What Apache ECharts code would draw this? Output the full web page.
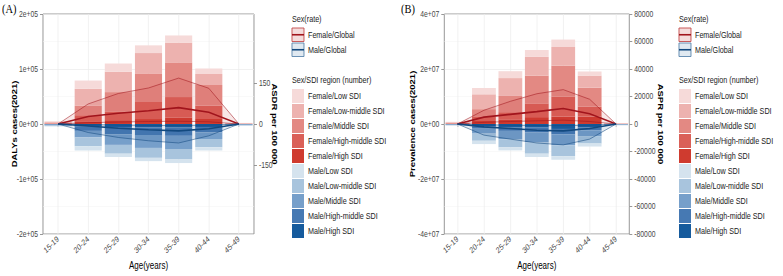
<!DOCTYPE html>
<html>
<head>
<meta charset="utf-8">
<title>DALYs and prevalence by age, sex and SDI</title>
<script src="https://cdn.jsdelivr.net/npm/echarts@6/dist/echarts.min.js"></script>
<style>
  html, body { margin: 0; padding: 0; background: #fff; overflow: hidden; }
  #wrap { width: 783px; height: 276px; overflow: hidden; }
  /* the figure's lettering is narrow, so the chart is drawn wider and squeezed */
  #chart { width: 979px; height: 276px; transform: scaleX(0.79979); transform-origin: 0 0; }
</style>
</head>
<body>
<div id="wrap"><div id="chart"></div></div>
<script>
// age groups on the x axis
var ages = ['15-19', '20-24', '25-29', '30-34', '35-39', '40-44', '45-49'];

// (A) DALYs cases, female (positive) per SDI region
var dalyFemLow     = [1000, 15000, 15000, 14000, 13000, 10000, 400];
var dalyFemLowMid  = [1500, 31000, 37000, 37000, 36000, 20000, 600];
var dalyFemMid     = [1500, 17000, 36000, 52000, 63000, 38000, 600];
var dalyFemHighMid = [700, 11000, 15000, 31000, 37000, 24000, 300];
var dalyFemHigh    = [300, 5000, 7000, 9000, 12000, 9000, 100];
// (A) DALYs cases, male (drawn negative)
var dalyMaleLow     = [-700, -7700, -6000, -6000, -6500, -6000, -500];
var dalyMaleLowMid  = [-1200, -16000, -16000, -18000, -19000, -15000, -900];
var dalyMaleMid     = [-1300, -12000, -19500, -23500, -24000, -12000, -1000];
var dalyMaleHighMid = [-800, -7700, -13000, -14000, -15000, -10000, -600];
var dalyMaleHigh    = [-500, -4800, -5500, -6000, -6500, -5400, -500];
// (A) ASDR per 100 000 (global), mean and bounds
var asdrFemMean  = [0, 27.5, 39, 48, 59.5, 43, 0];
var asdrFemUpper = [0, 73, 111, 131, 167, 130, 0];
var asdrFemLower = [0, 5, 7, 9, 10, 8, 0];
var asdrMaleMean  = [0, -7, -15.5, -21, -25, -17, 0];
var asdrMaleLower = [0, -31, -49, -61, -69, -43, 0];
var asdrMaleUpper = [0, -2, -4, -5, -6, -4, 0];

// (B) prevalence cases, female
var prevFemLow     = [150000, 2300000, 2500000, 2500000, 2700000, 1500000, 60000];
var prevFemLowMid  = [200000, 5400000, 6500000, 6800000, 6800000, 4400000, 80000];
var prevFemMid     = [200000, 2600000, 5900000, 10100000, 11300000, 6900000, 80000];
var prevFemHighMid = [150000, 1700000, 2600000, 5000000, 7200000, 3600000, 50000];
var prevFemHigh    = [100000, 1100000, 1700000, 2500000, 2700000, 2700000, 30000];
// (B) prevalence cases, male (drawn negative)
var prevMaleLow     = [-100000, -1200000, -1100000, -1200000, -1300000, -1100000, -80000];
var prevMaleLowMid  = [-150000, -2600000, -3000000, -4100000, -4000000, -2700000, -120000];
var prevMaleMid     = [-150000, -1800000, -3000000, -3600000, -3900000, -2100000, -120000];
var prevMaleHighMid = [-100000, -900000, -1200000, -1800000, -2000000, -1100000, -90000];
var prevMaleHigh    = [-100000, -800000, -1300000, -1300000, -1800000, -1200000, -90000];
// (B) ASPR per 100 000 (global)
var asprFemMean  = [0, 5000, 7000, 9000, 11300, 7500, 0];
var asprFemUpper = [0, 10000, 16500, 22000, 25000, 18000, 0];
var asprFemLower = [0, 1200, 1800, 2300, 2800, 1800, 0];
var asprMaleMean  = [0, -2100, -3300, -4500, -5000, -3300, 0];
var asprMaleLower = [0, -8100, -11000, -13800, -15200, -11000, 0];
var asprMaleUpper = [0, -600, -900, -1100, -1200, -900, 0];

// tick labels of the ASDR axis
var asdrTicks = [-150, 0, 150];

var legendNames = [
  'Female/Low SDI', 'Female/Low-middle SDI', 'Female/Middle SDI', 'Female/High-middle SDI', 'Female/High SDI',
  'Male/Low SDI', 'Male/Low-middle SDI', 'Male/Middle SDI', 'Male/High-middle SDI', 'Male/High SDI'
];
var colors = {
  'Female/Low SDI': '#f6dad9', 'Female/Low-middle SDI': '#edb2af', 'Female/Middle SDI': '#e38983',
  'Female/High-middle SDI': '#da6058', 'Female/High SDI': '#cf3b2f',
  'Male/Low SDI': '#d5e3ee', 'Male/Low-middle SDI': '#a8c4dd', 'Male/Middle SDI': '#769fca',
  'Male/High-middle SDI': '#4679b3', 'Male/High SDI': '#165b9d'
};

var S = 783 / 979;               // horizontal squeeze applied by css
function X(px) { return px / S; } // page x -> chart x

var FONT = "'Liberation Sans', Arial, sans-serif";
var AXIS_GREY = '#8c8c8c';
var TXT_GREY = '#474747';
var FEM_LINE = '#a1141c';
var MALE_LINE = '#12497f';
var TICK_SIZE = 8.5;

function sci(v) {
  if (v === 0) return '0e+00';
  var p = v.toExponential().split('e');
  var e = p[1];
  var d = e.slice(1);
  if (d.length < 2) d = '0' + d;
  return p[0] + 'e' + e[0] + d;
}
function plain(v) { return String(v); }

function ribbon(upper, lower, fill) {
  return function (params, api) {
    if (params.dataIndex !== 0) return;
    var pts = [];
    for (var i = 0; i < upper.length; i++) pts.push(api.coord([i, upper[i]]));
    for (var j = lower.length - 1; j >= 0; j--) pts.push(api.coord([j, lower[j]]));
    return { type: 'polygon', shape: { points: pts }, style: { fill: fill, stroke: 'none' } };
  };
}

function panelSeries(p, bars, rates) {
  var out = [];
  // stacking order: High SDI nearest zero
  var order = ['High SDI', 'High-middle SDI', 'Middle SDI', 'Low-middle SDI', 'Low SDI'];
  ['Female', 'Male'].forEach(function (sex) {
    order.forEach(function (lvl) {
      var name = sex + '/' + lvl;
      out.push({
        name: name, type: 'bar', xAxisIndex: p, yAxisIndex: p * 2, stack: 'p' + p,
        barCategoryGap: '10%', data: bars[name], z: 2,
        itemStyle: { color: colors[name] }, silent: true
      });
    });
  });
  // vertical grid lines at category centres
  out.push({
    type: 'line', xAxisIndex: p, yAxisIndex: p * 2, data: [], z: 1, silent: true,
    markLine: {
      z: 1, silent: true, symbol: ['none', 'none'], label: { show: false },
      lineStyle: { color: '#ebebeb', width: 0.8, type: 'solid' },
      data: ages.map(function (a) { return { xAxis: a }; })
    }
  });
  // uncertainty ribbons
  [[rates.fu, rates.fl, 'rgba(200,60,60,0.12)'], [rates.mu, rates.ml, 'rgba(40,90,150,0.12)']].forEach(function (r) {
    out.push({
      type: 'custom', xAxisIndex: p, yAxisIndex: p * 2 + 1, z: 3, silent: true,
      renderItem: ribbon(r[0], r[1], r[2]),
      data: ages.map(function (a, i) { return [i, r[0][i]]; })
    });
  });
  function line(name, d, col, w) {
    return { name: name, type: 'line', xAxisIndex: p, yAxisIndex: p * 2 + 1, data: d, z: 4,
      symbol: 'none', silent: true, lineStyle: { color: col, width: w } };
  }
  out.push(line('Female/Global upper', rates.fu, FEM_LINE, 0.6));
  out.push(line('Female/Global lower', rates.fl, FEM_LINE, 0.6));
  out.push(line('Female/Global', rates.fm, FEM_LINE, 1.6));
  out.push(line('Male/Global upper', rates.mu, MALE_LINE, 0.6));
  out.push(line('Male/Global lower', rates.ml, MALE_LINE, 0.6));
  out.push(line('Male/Global', rates.mm, MALE_LINE, 1.6));
  return out;
}

var barsA = {
  'Female/Low SDI': dalyFemLow, 'Female/Low-middle SDI': dalyFemLowMid, 'Female/Middle SDI': dalyFemMid,
  'Female/High-middle SDI': dalyFemHighMid, 'Female/High SDI': dalyFemHigh,
  'Male/Low SDI': dalyMaleLow, 'Male/Low-middle SDI': dalyMaleLowMid, 'Male/Middle SDI': dalyMaleMid,
  'Male/High-middle SDI': dalyMaleHighMid, 'Male/High SDI': dalyMaleHigh
};
var barsB = {
  'Female/Low SDI': prevFemLow, 'Female/Low-middle SDI': prevFemLowMid, 'Female/Middle SDI': prevFemMid,
  'Female/High-middle SDI': prevFemHighMid, 'Female/High SDI': prevFemHigh,
  'Male/Low SDI': prevMaleLow, 'Male/Low-middle SDI': prevMaleLowMid, 'Male/Middle SDI': prevMaleMid,
  'Male/High-middle SDI': prevMaleHighMid, 'Male/High SDI': prevMaleHigh
};

var titleStyle = { fontWeight: 'bold', fontSize: 9.5, color: '#000' };

function xAxisFor(p) {
  return {
    gridIndex: p, type: 'category', data: ages, boundaryGap: true,
    axisLine: { show: false },
    axisTick: { show: true, alignWithLabel: true, length: 3, lineStyle: { color: AXIS_GREY } },
    axisLabel: { rotate: 39, interval: 0, fontSize: TICK_SIZE, color: TXT_GREY, margin: 4 },
    splitLine: { show: false },
    name: 'Age(years)', nameLocation: 'middle', nameGap: 27, nameMoveOverlap: false,
    nameTextStyle: { fontSize: 10, color: '#000' }
  };
}
function leftAxis(p, min, max, step, title, gap) {
  return {
    gridIndex: p, type: 'value', min: min, max: max, interval: step,
    axisLine: { show: false },
    axisTick: { show: true, length: X(3), lineStyle: { color: AXIS_GREY } },
    axisLabel: { formatter: sci, fontSize: TICK_SIZE, color: TXT_GREY, margin: X(5) },
    splitLine: { show: true, lineStyle: { color: '#ebebeb', width: 0.8 } },
    minorTick: { show: false, splitNumber: 2 },
    minorSplitLine: { show: true, lineStyle: { color: '#f3f3f3', width: 0.6 } },
    name: title, nameLocation: 'middle', nameGap: gap, nameMoveOverlap: false,
    nameTextStyle: titleStyle
  };
}

var gridStyle = { show: true, borderColor: AXIS_GREY, borderWidth: 1, backgroundColor: '#fff' };

var rightA = {
  gridIndex: 0, type: 'value', position: 'right', min: -400, max: 400,
  axisLine: { show: false },
  axisTick: { show: true, length: X(3), customValues: asdrTicks, lineStyle: { color: AXIS_GREY } },
  axisLabel: { formatter: plain, fontSize: TICK_SIZE, color: TXT_GREY, margin: X(5), customValues: asdrTicks },
  splitLine: { show: false },
  name: 'ASDR per 100 000', nameLocation: 'middle', nameGap: X(17), nameRotate: -90, nameMoveOverlap: false,
  nameTextStyle: titleStyle
};
var rightB = {
  gridIndex: 1, type: 'value', position: 'right', min: -80000, max: 80000, interval: 20000,
  axisLine: { show: false },
  axisTick: { show: true, length: X(3), lineStyle: { color: AXIS_GREY } },
  axisLabel: { formatter: plain, fontSize: TICK_SIZE, color: TXT_GREY, margin: X(5) },
  splitLine: { show: false },
  name: 'ASPR per 100 000', nameLocation: 'middle', nameGap: X(27.5), nameRotate: -90, nameMoveOverlap: false,
  nameTextStyle: titleStyle
};

function legendFor(x) {
  return {
    left: X(x), top: 89, orient: 'vertical', icon: 'rect', itemWidth: X(12), itemHeight: 14, itemGap: 1,
    padding: 0, selectedMode: false, data: legendNames,
    textStyle: { fontSize: 9, color: '#1a1a1a', fontFamily: FONT }
  };
}

function rateKeys(x) {
  var g = [];
  var kx = X(x), kw = X(12);
  [['Female/Global', 28, '#f4dcdc', '#c44b4b', FEM_LINE], ['Male/Global', 43, '#e0e9f1', '#5a86ad', MALE_LINE]].forEach(function (k) {
    g.push({ type: 'rect', x: kx, y: k[1], shape: { x: 0, y: 0, width: kw, height: 13.5 },
      style: { fill: k[2], stroke: k[3], lineWidth: 1 } });
    g.push({ type: 'line', shape: { x1: kx, y1: k[1] + 6.75, x2: kx + kw, y2: k[1] + 6.75 },
      style: { stroke: k[4], lineWidth: 1.6 } });
    g.push({ type: 'text', x: kx + kw + 5, y: k[1] + 6.75,
      style: { text: k[0], fontSize: 9, fill: '#1a1a1a', fontFamily: FONT, verticalAlign: 'middle' } });
  });
  g.push({ type: 'text', x: kx, y: 19,
    style: { text: 'Sex(rate)', fontSize: 9, fill: '#1a1a1a', fontFamily: FONT, verticalAlign: 'middle' } });
  g.push({ type: 'text', x: kx, y: 80.5,
    style: { text: 'Sex/SDI region (number)', fontSize: 9, fill: '#1a1a1a', fontFamily: FONT, verticalAlign: 'middle' } });
  return g;
}

var chart = echarts.init(document.getElementById('chart'), null, { renderer: 'svg' });
chart.setOption({
  animation: false,
  textStyle: { fontFamily: FONT },
  grid: [
    Object.assign({ left: X(43), top: 14, width: X(211), height: 224 }, gridStyle),
    Object.assign({ left: X(444.3), top: 14, width: X(185), height: 224 }, gridStyle)
  ],
  xAxis: [xAxisFor(0), xAxisFor(1)],
  yAxis: [
    leftAxis(0, -200000, 200000, 100000, 'DALYs cases(2021)', X(25)),
    rightA,
    leftAxis(1, -40000000, 40000000, 20000000, 'Prevalence cases(2021)', X(27.5)),
    rightB
  ],
  legend: [legendFor(292), legendFor(679)],
  graphic: [
    { type: 'text', x: X(2), y: 9, style: { text: '(A)', fontSize: 13, fill: '#000', fontFamily: "'Liberation Serif', serif", verticalAlign: 'middle' } },
    { type: 'text', x: X(401), y: 9, style: { text: '(B)', fontSize: 13, fill: '#000', fontFamily: "'Liberation Serif', serif", verticalAlign: 'middle' } }
  ].concat(rateKeys(292), rateKeys(679)),
  series: panelSeries(0, barsA, {
    fm: asdrFemMean, fu: asdrFemUpper, fl: asdrFemLower,
    mm: asdrMaleMean, mu: asdrMaleUpper, ml: asdrMaleLower
  }).concat(panelSeries(1, barsB, {
    fm: asprFemMean, fu: asprFemUpper, fl: asprFemLower,
    mm: asprMaleMean, mu: asprMaleUpper, ml: asprMaleLower
  }))
});
</script>
</body>
</html>
